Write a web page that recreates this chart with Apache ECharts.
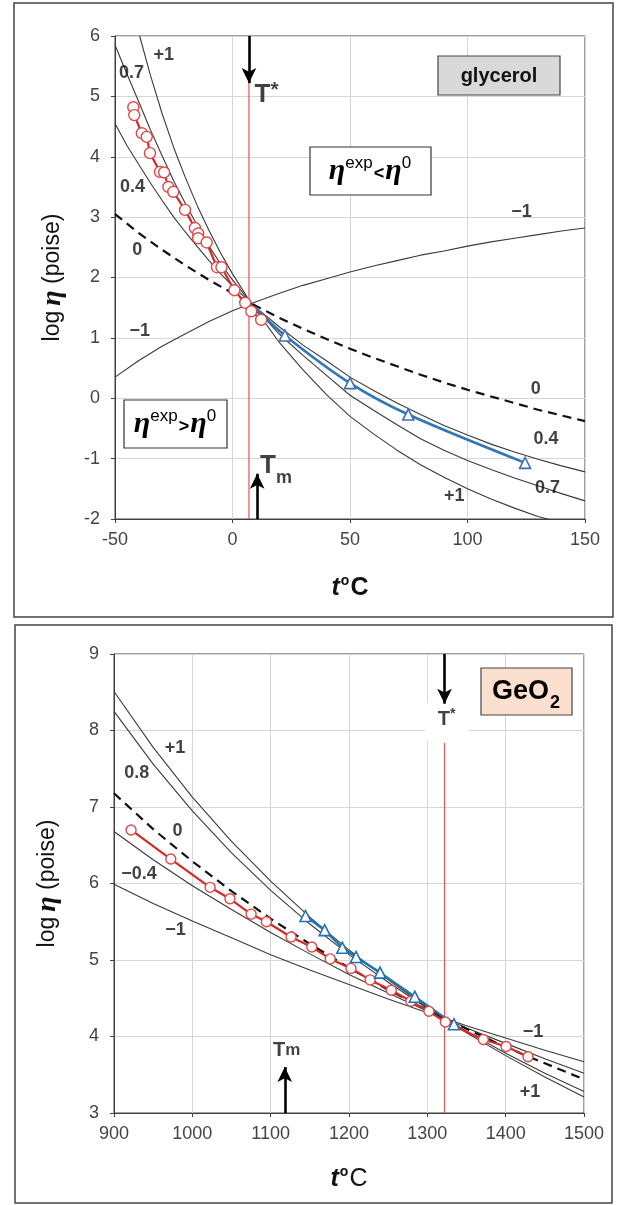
<!DOCTYPE html>
<html><head><meta charset="utf-8">
<script src="https://cdn.jsdelivr.net/npm/echarts@6/dist/echarts.min.js"></script>
<style>html,body{margin:0;padding:0;background:#fff}#c{width:623px;height:1205px}</style>
</head><body><div id="c"></div>
<script>
// ---------- Glycerol panel (top) ----------
const glyXTicks = [-50, 0, 50, 100, 150];
const glyYTicks = [-2, -1, 0, 1, 2, 3, 4, 5, 6];
const glyCurveP1 = [[-39.5,6.0],[-35,5.36],[-30,4.72],[-25,4.15],[-20,3.65],[-15,3.19],[-10,2.78],[-5,2.40],[0,2.06],[8,1.57],[10,1.46],[20,0.92],[30,0.47],[40,0.06],[50,-0.30],[60,-0.59],[70,-0.86],[80,-1.10],[90,-1.31],[100,-1.50],[110,-1.67],[120,-1.82],[130,-1.96],[136,-2.02]];
const glyCurve07 = [[-50,5.85],[-45,5.38],[-40,4.92],[-35,4.45],[-30,4.02],[-25,3.60],[-20,3.22],[-15,2.86],[-10,2.52],[-5,2.22],[0,1.96],[8,1.57],[10,1.48],[20,1.06],[30,0.71],[40,0.38],[50,0.05],[60,-0.20],[70,-0.44],[80,-0.67],[90,-0.86],[100,-1.03],[110,-1.18],[120,-1.32],[130,-1.45],[140,-1.58],[150,-1.70]];
const glyCurve04 = [[-50,4.55],[-45,4.19],[-40,3.88],[-35,3.57],[-30,3.28],[-25,3.00],[-20,2.75],[-15,2.51],[-10,2.28],[-5,2.06],[0,1.86],[8,1.57],[10,1.50],[20,1.18],[30,0.88],[40,0.62],[50,0.35],[60,0.13],[70,-0.08],[80,-0.27],[90,-0.45],[100,-0.61],[110,-0.76],[120,-0.89],[130,-1.01],[140,-1.12],[150,-1.22]];
const glyCurve0 = [[-50,3.05],[-40,2.74],[-30,2.46],[-20,2.20],[-10,1.96],[0,1.74],[8,1.57],[10,1.53],[20,1.33],[30,1.15],[40,0.98],[50,0.82],[60,0.67],[70,0.53],[80,0.39],[90,0.26],[100,0.14],[110,0.03],[120,-0.08],[130,-0.19],[140,-0.285],[150,-0.38]];
const glyCurveM1 = [[-50,0.35],[-40,0.62],[-30,0.86],[-20,1.07],[-10,1.27],[0,1.45],[8,1.57],[10,1.60],[20,1.74],[30,1.87],[40,1.98],[50,2.09],[60,2.19],[70,2.28],[80,2.37],[90,2.44],[100,2.52],[110,2.59],[120,2.65],[130,2.71],[140,2.77],[150,2.82]];
const glyLowT = [[-42.2,4.82],[-41.8,4.69],[-38.6,4.39],[-36.5,4.33],[-35.1,4.06],[-30.9,3.75],[-29.1,3.74],[-27.3,3.50],[-25.2,3.42],[-20.2,3.12],[-16.0,2.82],[-14.6,2.73],[-14.6,2.65],[-11.0,2.58],[-6.6,2.17],[-4.7,2.17],[0.8,1.79],[5.4,1.58],[8.0,1.44],[12.2,1.30]];
const glyHighT = [[10.5,1.47],[22.3,1.04],[50,0.25],[74.8,-0.27],[124.5,-1.07]];
const glyTstar = 7;
const glyTm = 10.5;
const glyLabels = [[-29.3,5.68,'+1'],[-43.0,5.38,'0.7'],[-42.6,3.5,'0.4'],[-40.5,2.45,'0'],[-39.5,1.12,'\u22121'],[123,3.08,'\u22121'],[129,0.15,'0'],[133.4,-0.68,'0.4'],[134,-1.49,'0.7'],[94.4,-1.62,'+1']];

// ---------- GeO2 panel (bottom) ----------
const geoXTicks = [900, 1000, 1100, 1200, 1300, 1400, 1500];
const geoYTicks = [3, 4, 5, 6, 7, 8, 9];
const geoT = [900,950,1000,1050,1100,1150,1200,1250,1300,1321,1350,1400,1450,1500];
const geoCurveP1 = [8.51,7.78,7.13,6.55,6.03,5.56,5.13,4.74,4.38,4.24,4.05,3.75,3.47,3.21];
const geoCurve08 = [8.25,7.56,6.95,6.40,5.91,5.47,5.07,4.71,4.37,4.24,4.07,3.78,3.52,3.28];
const geoCurve0 = [7.18,6.71,6.29,5.90,5.54,5.21,4.90,4.61,4.35,4.24,4.10,3.86,3.65,3.44];
const geoCurveM04 = [6.68,6.31,5.97,5.66,5.36,5.08,4.81,4.57,4.33,4.24,4.11,3.91,3.71,3.52];
const geoCurveM1 = [5.99,5.74,5.51,5.29,5.07,4.87,4.68,4.49,4.31,4.24,4.14,3.98,3.82,3.67];
const geoCircles = [[921.8,6.70],[972.5,6.32],[1022.7,5.95],[1048,5.80],[1075,5.60],[1094.5,5.50],[1126,5.30],[1152.5,5.17],[1176,5.015],[1202.5,4.89],[1227,4.74],[1254,4.605],[1279,4.46],[1302,4.33],[1323,4.19],[1371.5,3.96],[1400.5,3.87],[1428.5,3.735]];
const geoTriangles = [[1144.5,5.575],[1169,5.39],[1191.5,5.16],[1209,5.04],[1239.7,4.835],[1284,4.52],[1334,4.16]];
const geoTstar = 1322;
const geoTm = 1118;
const geoLabels = [[977.9,7.77,'+1'],[929,7.44,'0.8'],[981,6.68,'0'],[932,6.13,'\u22120.4'],[978.6,5.39,'\u22121'],[1435,4.06,'\u22121'],[1431,3.28,'+1']];

const SANS = "'Liberation Sans', Arial, sans-serif";
const SERIF = "'Liberation Serif', 'DejaVu Serif', serif";
const chart = echarts.init(document.getElementById('c'), null, {width:623, height:1205});

function xAxisCfg(gi, ticks, gap) {
  return {type:'value', gridIndex:gi, min:ticks[0], max:ticks[ticks.length-1], interval:ticks[1]-ticks[0],
    axisLine:{show:true, onZero:false, lineStyle:{color:'#404040', width:1}},
    axisTick:{show:true, length:4, lineStyle:{color:'#404040'}},
    axisLabel:{fontFamily:SANS, fontSize:18, color:'#444', margin:12, formatter: v => String(v)},
    splitLine:{show:true, lineStyle:{color:'#d6d6d6', width:1}},
    name:'{t|t}{o|o}{c|C}', nameLocation:'middle', nameGap:gap,
    nameTextStyle:{rich:{
      t:{fontFamily:SANS, fontStyle:'italic', fontWeight:'bold', fontSize:25, color:'#111', lineHeight:28},
      o:{fontFamily:SANS, fontWeight:'bold', fontSize:14, color:'#111', verticalAlign:'top', lineHeight:14, padding:[0,1,0,1]},
      c:{fontFamily:SANS, fontWeight: gi===0 ? 'bold':'normal', fontSize:25, color:'#111', lineHeight:28}}}};
}
function yAxisCfg(gi, ticks, gap) {
  return {type:'value', gridIndex:gi, min:ticks[0], max:ticks[ticks.length-1], interval:ticks[1]-ticks[0],
    axisLine:{show:true, onZero:false, lineStyle:{color:'#404040', width:1}},
    axisTick:{show:true, length:4, lineStyle:{color:'#404040'}},
    axisLabel:{fontFamily:SANS, fontSize:18, color:'#444', margin:15, formatter: v => String(v)},
    splitLine:{show:true, lineStyle:{color:'#d6d6d6', width:1}},
    name:'{n|log}{e|\u03b7}{n| (poise)}', nameLocation:'middle', nameGap:gap,
    nameTextStyle:{rich:{
      n:{fontFamily:SANS, fontSize:23, color:'#111'},
      e:{fontFamily:SERIF, fontStyle:'italic', fontWeight:'bold', fontSize:28, color:'#111', padding:[0,0,0,5]}}}};
}
function curve(xi, data, dashed) {
  return {type:'line', xAxisIndex:xi, yAxisIndex:xi, data:data, showSymbol:false, symbol:'none',
    smooth:false, clip:true, z:2, silent:true,
    lineStyle: dashed ? {color:'#111', width:2.2, type:[9,6]} : {color:'#3a3a3a', width:1.1}};
}
function labelSeries(xi, arr, size) {
  return {type:'scatter', xAxisIndex:xi, yAxisIndex:xi, symbolSize:0, silent:true, z:6,
    data: arr.map(a => ({value:[a[0], a[1]], label:{formatter:a[2]}})),
    label:{show:true, position:'inside', fontFamily:SANS, fontWeight:'bold', fontSize:size, color:'#111'}};
}
const tRich = {
  T:{fontFamily:SANS, fontWeight:'bold', fontSize:26, color:'#111', lineHeight:30},
  s:{fontFamily:SANS, fontWeight:'bold', fontSize:21, color:'#111', verticalAlign:'top', lineHeight:20},
  m:{fontFamily:SANS, fontWeight:'bold', fontSize:18, color:'#111', verticalAlign:'bottom', lineHeight:17, padding:[0,0,-6,0]},
  T2:{fontFamily:SANS, fontWeight:'bold', fontSize:20, color:'#111', lineHeight:24},
  s2:{fontFamily:SANS, fontWeight:'bold', fontSize:14, color:'#111', verticalAlign:'top', lineHeight:14},
  m2:{fontFamily:SANS, fontWeight:'bold', fontSize:17, color:'#111', lineHeight:24}
};
function textPoint(xi, x, y, fmt) {
  return {type:'scatter', xAxisIndex:xi, yAxisIndex:xi, symbolSize:0, silent:true, z:7,
    data:[[x, y]], label:{show:true, position:'inside', formatter:fmt, rich:tRich}};
}
function arrowML(x0, y0, x1, y1) {
  return [{coord:[x0, y0]}, {coord:[x1, y1]}];
}
function geoCurve(vals, dashed) {
  return curve(1, geoT.map((t, i) => [t, vals[i]]), dashed);
}

const etaRich = {
  e:{fontFamily:SERIF, fontStyle:'italic', fontWeight:'bold', fontSize:30, color:'#111', lineHeight:32},
  s:{fontFamily:SANS, fontSize:17, color:'#111', verticalAlign:'top', lineHeight:18},
  o:{fontFamily:SANS, fontWeight:'bold', fontSize:18, color:'#111', lineHeight:32, padding:[6,1,0,1]}
};

const option = {
  backgroundColor:'#fff',
  animation:false,
  grid:[
    {left:115, top:36, width:470, height:483, show:true, borderColor:'#404040', borderWidth:1, backgroundColor:'#fff'},
    {left:114, top:654, width:470, height:459, show:true, borderColor:'#404040', borderWidth:1, backgroundColor:'#fff'}
  ],
  xAxis:[xAxisCfg(0, glyXTicks, 55), xAxisCfg(1, geoXTicks, 52)],
  yAxis:[yAxisCfg(0, glyYTicks, 48), yAxisCfg(1, geoYTicks, 52)],
  graphic:[
    {type:'rect', z:-10, shape:{x:14, y:3, width:599, height:614}, style:{fill:'#fff', stroke:'#444', lineWidth:1.5}},
    {type:'rect', z:-10, shape:{x:15, y:625, width:597, height:578}, style:{fill:'#fff', stroke:'#444', lineWidth:1.5}},
    {type:'rect', z:100, shape:{x:438, y:56, width:122, height:39}, style:{fill:'#d9d9d9', stroke:'#444', lineWidth:1.2}},
    {type:'text', z:101, style:{text:'glycerol', x:499, y:76, align:'center', verticalAlign:'middle', fontFamily:SANS, fontWeight:'bold', fontSize:20, fill:'#111'}},
    {type:'rect', z:100, shape:{x:310, y:147, width:121, height:48}, style:{fill:'#fff', stroke:'#333', lineWidth:1.2}},
    {type:'text', z:101, style:{text:'{e|\u03b7}{s|exp}{o|<}{e|\u03b7}{s|0}', rich:etaRich, x:370, y:171, align:'center', verticalAlign:'middle'}},
    {type:'rect', z:100, shape:{x:124, y:400, width:103, height:48}, style:{fill:'#fff', stroke:'#333', lineWidth:1.2}},
    {type:'text', z:101, style:{text:'{e|\u03b7}{s|exp}{o|>}{e|\u03b7}{s|0}', rich:etaRich, x:175, y:424, align:'center', verticalAlign:'middle'}},
    {type:'rect', z:100, shape:{x:481, y:668, width:91, height:47}, style:{fill:'#fbdfcf', stroke:'#444', lineWidth:1.2}},
    {type:'text', z:101, style:{text:'{g|GeO}{d|2}', x:526, y:692, align:'center', verticalAlign:'middle',
      rich:{g:{fontFamily:SANS, fontWeight:'bold', fontSize:27, color:'#111', lineHeight:32},
            d:{fontFamily:SANS, fontWeight:'bold', fontSize:18, color:'#111', verticalAlign:'bottom', lineHeight:18, padding:[0,0,-4,1]}}}},
    {type:'rect', z:5, shape:{x:425, y:703, width:44, height:38}, style:{fill:'#fff'}}
  ],
  series:[
    curve(0, glyCurveM1), curve(0, glyCurve04), curve(0, glyCurve07), curve(0, glyCurveP1), curve(0, glyCurve0, true),
    {type:'line', xAxisIndex:0, yAxisIndex:0, data:[[glyTstar,5.22],[glyTstar,-2]], symbol:'none', z:3, silent:true,
      lineStyle:{color:'#e05555', width:1.2},
      markLine:{silent:true, symbol:['none','arrow'], symbolSize:[11,15], label:{show:false},
        lineStyle:{color:'#000', width:2.6, type:'solid'},
        data:[arrowML(glyTstar,6,glyTstar,5.22), arrowML(glyTm,-2,glyTm,-1.25)]}},
    {type:'line', xAxisIndex:0, yAxisIndex:0, data:glyLowT, symbol:'circle', symbolSize:11, z:4,
      lineStyle:{color:'#d42a2a', width:2.2}, itemStyle:{color:'#fff', borderColor:'#e04848', borderWidth:1.4}},
    {type:'line', xAxisIndex:0, yAxisIndex:0, smooth:0.3,
      data:glyHighT.map((p,i)=> i===0 ? {value:p, symbolSize:0} : {value:p}),
      symbol:'triangle', symbolSize:11, z:4,
      lineStyle:{color:'#2e78b8', width:2.6}, itemStyle:{color:'#fff', borderColor:'#3f6fb5', borderWidth:1.6}},
    labelSeries(0, glyLabels, 18),
    textPoint(0, 14.5, 5.03, '{T|T}{s|*}'),
    textPoint(0, 18.5, -1.12, '{T|T}{m|m}'),

    geoCurve(geoCurveM1), geoCurve(geoCurveM04), geoCurve(geoCurve08), geoCurve(geoCurveP1), geoCurve(geoCurve0, true),
    {type:'line', xAxisIndex:1, yAxisIndex:1, data:[[geoTstar,7.84],[geoTstar,3]], symbol:'none', z:3, silent:true,
      lineStyle:{color:'#e05555', width:1.2},
      markLine:{silent:true, symbol:['none','arrow'], symbolSize:[11,15], label:{show:false},
        lineStyle:{color:'#000', width:2.6, type:'solid'},
        data:[arrowML(geoTstar,9,geoTstar,8.35), arrowML(geoTm,3,geoTm,3.6)]}},
    {type:'line', xAxisIndex:1, yAxisIndex:1, data:geoCircles, symbol:'circle', symbolSize:10, z:4,
      lineStyle:{color:'#d42a2a', width:2.2}, itemStyle:{color:'#fff', borderColor:'#e04848', borderWidth:1.4}},
    {type:'line', xAxisIndex:1, yAxisIndex:1, data:geoTriangles, symbol:'triangle', symbolSize:11, z:4,
      lineStyle:{color:'#1f73b4', width:2.4}, itemStyle:{color:'#fff', borderColor:'#1f73b4', borderWidth:1.6}},
    labelSeries(1, geoLabels, 18),
    textPoint(1, 1324.7, 8.15, '{T2|T}{s2|*}'),
    textPoint(1, 1120.5, 3.82, '{T2|T}{m2|m}')
  ]
};
chart.setOption(option);
</script></body></html>
